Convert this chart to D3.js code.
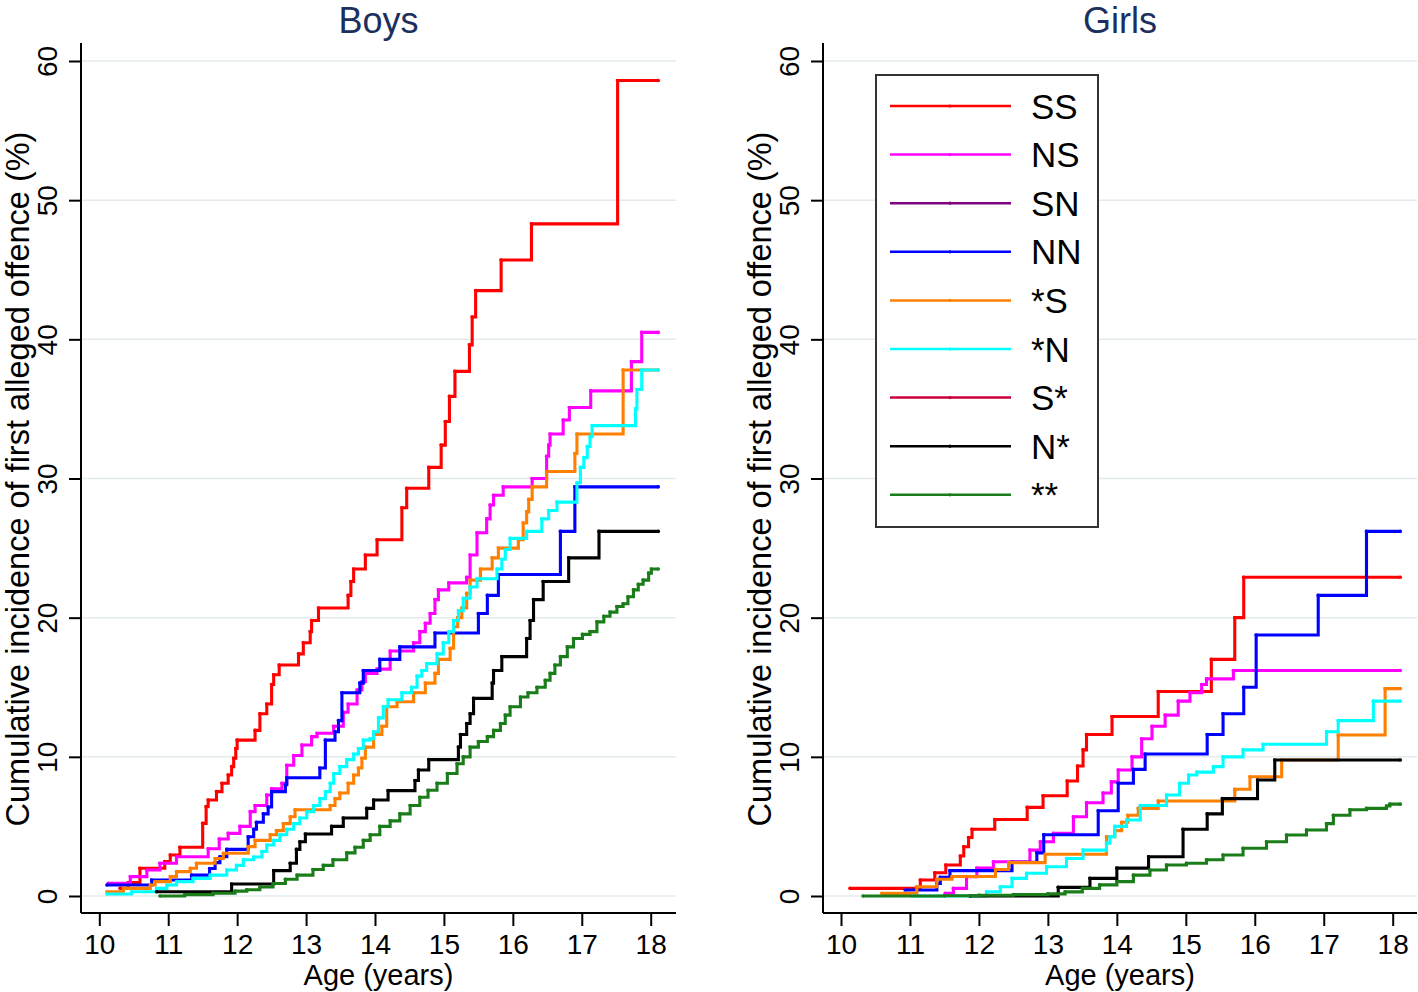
<!DOCTYPE html>
<html>
<head>
<meta charset="utf-8">
<script src="https://cdn.jsdelivr.net/npm/d3@7"></script>
<style>
  body { margin: 0; background: #fff; }
  svg { display: block; font-family: "Liberation Sans", Arial, sans-serif; }
</style>
</head>
<body>
<svg id="chart" width="1418" height="992"></svg>
<script>
// cumulative incidence (%): [age, percent], step after
var boysSS = [[10.30,0.55],[10.42,0.96],[10.59,1.99],[10.95,2.47],[11.03,2.95],[11.17,3.5],[11.50,5.22],[11.55,6.42],[11.58,6.9],[11.70,7.5],[11.78,8.1],[11.87,8.7],[11.92,9.3],[11.95,9.9],[11.98,10.6],[12.00,11.2],[12.26,11.9],[12.33,13.1],[12.43,13.8],[12.50,15.2],[12.53,15.9],[12.61,16.6],[12.89,17.4],[12.96,18.2],[13.06,19.0],[13.08,19.8],[13.18,20.7],[13.61,21.6],[13.65,22.6],[13.69,23.5],[13.86,24.5],[14.03,25.6],[14.39,27.9],[14.46,29.3],[14.78,30.8],[14.96,32.4],[15.02,34.1],[15.08,35.9],[15.16,37.7],[15.37,39.6],[15.41,41.6],[15.46,43.5],[15.83,45.7],[16.27,48.3],[17.52,58.6],[18.11,58.6]];
var boysNS = [[10.13,0.91],[10.45,1.39],[10.69,1.87],[10.88,2.35],[11.12,2.82],[11.58,3.4],[11.74,4.1],[11.87,4.5],[12.04,5.0],[12.19,6.06],[12.26,6.5],[12.43,7.26],[12.50,7.7],[12.65,8.1],[12.72,9.4],[12.82,10.1],[12.94,10.85],[13.08,11.45],[13.16,11.7],[13.40,12.2],[13.54,13.2],[13.61,13.8],[13.74,14.8],[13.81,15.4],[13.86,16.0],[14.03,16.3],[14.22,17.6],[14.56,18.2],[14.65,19.0],[14.73,19.6],[14.80,20.3],[14.87,21.3],[14.92,22.0],[15.07,22.5],[15.33,22.9],[15.38,24.5],[15.48,26.1],[15.62,27.1],[15.67,28.1],[15.72,28.8],[15.86,29.4],[16.28,30.0],[16.49,31.6],[16.52,32.4],[16.54,33.2],[16.73,34.2],[16.82,35.1],[17.13,36.3],[17.72,38.4],[17.87,40.5],[18.11,40.5]];
var boysSN = [];
var boysNN = [[10.11,0.79],[10.76,1.15],[11.34,1.5],[11.60,1.98],[11.68,2.4],[11.75,2.82],[11.85,3.35],[12.16,4.26],[12.24,4.8],[12.28,5.3],[12.38,5.9],[12.45,6.4],[12.50,7.5],[12.70,8.0],[12.72,8.5],[13.20,9.2],[13.28,11.2],[13.42,11.8],[13.47,12.6],[13.52,14.6],[13.78,15.3],[13.83,16.2],[14.07,17.0],[14.36,17.9],[14.87,18.9],[15.50,20.3],[15.63,21.6],[15.79,23.1],[16.69,26.2],[16.90,29.4],[18.11,29.4]];
var boysStarS = [[10.11,0.31],[10.35,0.55],[10.74,0.79],[10.81,1.03],[11.03,1.39],[11.12,1.75],[11.32,1.99],[11.41,2.35],[11.68,2.7],[11.80,3.07],[12.16,3.55],[12.26,4.0],[12.48,4.4],[12.57,4.7],[12.67,5.2],[12.77,5.7],[12.84,6.2],[13.35,6.5],[13.42,7.0],[13.49,7.4],[13.61,8.1],[13.69,8.7],[13.76,9.2],[13.81,9.9],[13.86,10.7],[13.98,11.6],[14.10,12.2],[14.17,13.6],[14.32,13.96],[14.56,14.6],[14.73,15.3],[14.87,16.0],[14.92,17.0],[15.09,17.8],[15.14,19.35],[15.20,20.0],[15.26,20.7],[15.33,21.75],[15.38,22.7],[15.53,23.5],[15.70,24.3],[15.79,25.0],[16.08,25.6],[16.15,26.8],[16.20,27.6],[16.23,28.5],[16.28,29.4],[16.49,30.5],[16.90,31.8],[16.93,33.2],[17.60,37.8],[18.11,37.8]];
var boysStarN = [[10.11,0.14],[10.47,0.31],[10.83,0.55],[10.98,0.79],[11.12,1.03],[11.36,1.27],[11.61,1.5],[11.85,1.87],[11.99,2.2],[12.09,2.6],[12.24,2.8],[12.36,3.2],[12.43,3.66],[12.53,4.0],[12.62,4.4],[12.72,4.8],[12.82,5.2],[12.91,5.6],[13.01,6.06],[13.11,6.5],[13.20,7.0],[13.28,7.5],[13.35,8.1],[13.40,8.8],[13.49,9.3],[13.59,9.8],[13.69,10.2],[13.76,10.6],[13.83,11.2],[13.93,11.3],[13.98,11.8],[14.05,12.8],[14.12,13.6],[14.19,14.1],[14.39,14.6],[14.53,15.0],[14.61,15.8],[14.68,16.2],[14.75,16.7],[14.90,17.4],[14.99,18.2],[15.07,19.0],[15.14,19.8],[15.21,20.5],[15.28,21.4],[15.38,22.2],[15.48,22.8],[15.77,23.5],[15.84,24.2],[15.89,24.9],[15.96,25.7],[16.20,26.2],[16.42,27.1],[16.52,27.7],[16.64,28.3],[16.93,29.7],[16.98,30.8],[17.03,31.5],[17.08,32.3],[17.12,33.0],[17.15,33.8],[17.78,35.0],[17.80,36.4],[17.87,37.8],[18.11,37.8]];
var boysSStar = [];
var boysNStar = [[10.83,0.31],[11.92,0.86],[12.53,1.82],[12.77,2.35],[12.86,3.35],[12.91,3.9],[12.99,4.45],[13.37,5.0],[13.54,5.6],[13.88,6.3],[13.98,6.9],[14.19,7.57],[14.58,8.3],[14.63,9.05],[14.78,9.8],[15.21,10.7],[15.24,11.6],[15.33,12.4],[15.38,13.1],[15.43,14.2],[15.70,15.3],[15.72,16.2],[15.84,17.2],[16.20,18.5],[16.25,19.8],[16.30,21.3],[16.44,22.6],[16.81,24.3],[17.25,26.2],[18.11,26.2]];
var boysStarStar = [[10.88,0],[11.24,0.1],[11.65,0.2],[11.97,0.35],[12.14,0.45],[12.33,0.65],[12.52,0.9],[12.70,1.2],[12.87,1.5],[13.10,1.9],[13.25,2.2],[13.39,2.6],[13.59,3.1],[13.71,3.5],[13.83,4.0],[13.93,4.4],[14.07,5.0],[14.22,5.4],[14.36,5.9],[14.51,6.5],[14.65,7.1],[14.77,7.6],[14.90,8.1],[15.05,8.8],[15.19,9.5],[15.28,10.0],[15.38,10.7],[15.50,11.1],[15.63,11.45],[15.72,11.9],[15.82,12.4],[15.89,13.0],[15.96,13.6],[16.11,14.3],[16.22,14.6],[16.35,15.0],[16.47,15.5],[16.54,16.0],[16.61,16.6],[16.69,17.2],[16.79,17.9],[16.88,18.5],[17.01,18.8],[17.12,19.0],[17.22,19.7],[17.32,20.1],[17.41,20.4],[17.51,20.8],[17.60,21.0],[17.67,21.5],[17.75,22.0],[17.82,22.4],[17.89,22.7],[17.97,23.2],[18.01,23.5],[18.11,23.5]];

var girlsSS = [[10.13,0.55],[11.15,1.15],[11.36,1.67],[11.52,2.23],[11.73,2.87],[11.78,3.54],[11.85,4.2],[11.90,4.8],[12.23,5.5],[12.70,6.37],[12.93,7.2],[13.28,8.26],[13.43,9.34],[13.51,10.5],[13.56,11.6],[13.93,12.9],[14.60,14.7],[15.37,17.0],[15.71,20.0],[15.84,22.9],[18.11,22.9]];
var girlsNS = [[11.51,0.19],[11.63,0.55],[11.82,1.39],[11.97,2.0],[12.21,2.46],[12.74,3.3],[12.89,3.9],[13.08,4.5],[13.37,5.7],[13.56,6.7],[13.80,7.4],[13.92,8.2],[14.02,9.05],[14.22,10.0],[14.36,11.3],[14.51,12.2],[14.70,13.0],[14.89,14.0],[15.06,14.6],[15.23,15.2],[15.30,15.6],[15.69,16.2],[18.11,16.2]];
var girlsSN = [];
var girlsNN = [[10.93,0.43],[11.39,0.91],[11.44,1.34],[11.58,1.82],[12.48,2.42],[12.84,3.1],[12.94,4.4],[13.73,6.13],[14.02,8.1],[14.24,9.1],[14.41,10.2],[15.31,11.6],[15.54,13.1],[15.84,15.0],[16.02,18.75],[16.92,21.6],[17.62,26.2],[18.11,26.2]];
var girlsStarS = [[10.59,0.19],[11.10,0.67],[11.39,1.2],[11.61,1.4],[12.24,1.9],[12.43,2.4],[12.96,3.0],[13.85,4.26],[13.97,4.7],[14.07,5.3],[14.16,5.8],[14.31,6.3],[14.60,6.83],[15.71,7.67],[15.93,8.57],[16.39,9.77],[17.21,11.57],[17.89,14.9],[18.11,14.9]];
var girlsStarN = [[11.03,0],[12.11,0.31],[12.31,0.67],[12.48,1.27],[12.69,1.63],[12.98,2.1],[13.27,2.7],[13.51,3.3],[13.85,3.8],[13.90,4.26],[13.97,5.0],[14.14,5.46],[14.34,6.5],[14.72,7.26],[14.91,8.1],[15.04,8.7],[15.16,8.9],[15.40,9.3],[15.54,10.0],[15.83,10.5],[16.12,10.9],[17.04,11.8],[17.21,12.6],[17.72,14.0],[18.11,14.0]];
var girlsSStar = [];
var girlsNStar = [[11.87,0],[13.15,0.62],[13.61,1.27],[14.00,2.0],[14.46,2.82],[14.96,4.8],[15.31,5.9],[15.53,7.0],[16.04,8.34],[16.29,9.77],[18.11,9.77]];
var girlsStarStar = [[10.32,0],[11.50,0.02],[12.00,0.05],[12.50,0.1],[13.00,0.15],[13.25,0.3],[13.50,0.55],[13.75,0.8],[14.00,1.03],[14.24,1.5],[14.48,1.87],[14.72,2.23],[15.01,2.35],[15.30,2.6],[15.54,2.95],[15.83,3.43],[16.17,3.9],[16.46,4.38],[16.75,4.74],[17.04,5.2],[17.14,5.8],[17.38,6.2],[17.62,6.3],[17.91,6.47],[17.96,6.6],[18.11,6.6]];

var groups = ["SS", "NS", "SN", "NN", "*S", "*N", "S*", "N*", "**"];
var colors = ["#ff0000", "#ff00ff", "#800080", "#0000ff", "#ff8000", "#00ffff", "#c8003c", "#000000", "#1a7d1a"];
var ageTicks = [10, 11, 12, 13, 14, 15, 16, 17, 18];
var pctTicks = [0, 10, 20, 30, 40, 50, 60];

var panels = [
	{ title: "Boys", axisX: 81, x0: 99.3, x1: 650.7, axisEnd: 676,
	  series: [boysSS, boysNS, boysSN, boysNN, boysStarS, boysStarN, boysSStar, boysNStar, boysStarStar], legend: false },
	{ title: "Girls", axisX: 823, x0: 841, x1: 1392.7, axisEnd: 1417,
	  series: [girlsSS, girlsNS, girlsSN, girlsNN, girlsStarS, girlsStarN, girlsSStar, girlsNStar, girlsStarStar], legend: true }
];

var svg = d3.select("#chart");
var yTop = 43, yBase = 913;
var y = d3.scaleLinear().domain([0, 60]).range([896, 61]);

panels.forEach(function(p) {
	var x = d3.scaleLinear().domain([10, 18]).range([p.x0, p.x1]);
	var g = svg.append("g");
	var mid = (p.axisX + p.axisEnd) / 2;

	// grid
	g.selectAll("line.grid").data(pctTicks).enter().append("line")
		.attr("x1", p.axisX).attr("x2", p.axisEnd)
		.attr("y1", d => y(d)).attr("y2", d => y(d))
		.attr("stroke", "#e3ebee").attr("stroke-width", 1.5);

	// curves
	var line = d3.line().x(d => x(d[0])).y(d => y(d[1])).curve(d3.curveStepAfter);
	p.series.forEach(function(s, i) {
		if (!s.length) return;
		g.append("path").attr("d", line(s))
			.attr("fill", "none").attr("stroke", colors[i])
			.attr("stroke-width", 3.1).attr("stroke-linejoin", "miter");
		g.selectAll(null).data(s).enter().append("circle")
			.attr("cx", d => x(d[0])).attr("cy", d => y(d[1])).attr("r", 1.8)
			.attr("fill", colors[i]);
	});

	// y axis
	var ya = g.append("g").attr("transform", "translate(" + p.axisX + ",0)")
		.call(d3.axisLeft(y).tickValues(pctTicks).tickSize(12).tickSizeOuter(0));
	ya.select(".domain").remove();
	ya.selectAll(".tick line").attr("stroke", "#000").attr("stroke-width", 2);
	ya.selectAll(".tick text")
		.attr("x", null).attr("dy", null)
		.attr("text-anchor", "middle")
		.attr("transform", "translate(-24,0) rotate(-90)")
		.attr("font-size", 28).attr("font-family", "Liberation Sans, Arial, sans-serif")
		.attr("fill", "#000");
	g.append("line").attr("x1", p.axisX).attr("x2", p.axisX)
		.attr("y1", yTop).attr("y2", yBase).attr("stroke", "#000").attr("stroke-width", 2);

	// x axis
	var xa = g.append("g").attr("transform", "translate(0," + yBase + ")")
		.call(d3.axisBottom(x).tickValues(ageTicks).tickSize(13).tickPadding(8).tickSizeOuter(0));
	xa.select(".domain").remove();
	xa.selectAll(".tick line").attr("stroke", "#000").attr("stroke-width", 2);
	xa.selectAll(".tick text")
		.attr("font-size", 28).attr("font-family", "Liberation Sans, Arial, sans-serif")
		.attr("fill", "#000");
	g.append("line").attr("x1", p.axisX).attr("x2", p.axisEnd)
		.attr("y1", yBase).attr("y2", yBase).attr("stroke", "#000").attr("stroke-width", 2);

	// titles
	g.append("text").attr("x", mid).attr("y", 33).attr("text-anchor", "middle")
		.attr("font-size", 36).attr("fill", "#1c2f5e").text(p.title);
	g.append("text").attr("x", mid).attr("y", 985).attr("text-anchor", "middle")
		.attr("font-size", 29).attr("fill", "#000").text("Age (years)");
	g.append("text").attr("transform", "translate(" + (p.axisX - 52) + ",479) rotate(-90)")
		.attr("text-anchor", "middle").attr("font-size", 32.5).attr("fill", "#000")
		.text("Cumulative incidence of first alleged offence (%)");

	if (p.legend) {
		var lg = g.append("g");
		lg.append("rect").attr("x", 876).attr("y", 75).attr("width", 222).attr("height", 452)
			.attr("fill", "#fff").attr("stroke", "#333").attr("stroke-width", 2);
		var rows = lg.selectAll("g.row").data(groups).enter().append("g")
			.attr("transform", (d, i) => "translate(0," + (106 + i * 48.6) + ")");
		rows.append("line").attr("x1", 890).attr("x2", 1011)
			.attr("stroke", (d, i) => colors[i]).attr("stroke-width", 2.5);
		rows.append("circle").attr("cx", 950).attr("r", 1.6).attr("fill", (d, i) => colors[i]);
		rows.append("text").attr("x", 1031).attr("dy", "0.36em")
			.attr("font-size", 35).attr("fill", "#000").text(d => d);
	}
});
</script>
</body>
</html>
